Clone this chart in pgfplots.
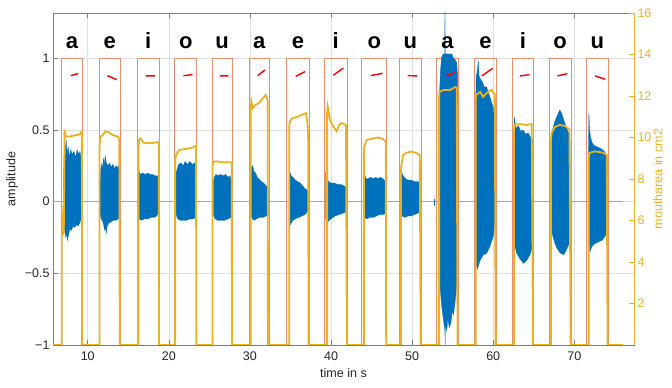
\documentclass[border=0pt]{standalone}
\usepackage{pgfplots}
\pgfplotsset{compat=1.18}
\usepackage{fontspec}
\setmainfont{Liberation Sans}
\definecolor{mblue}{RGB}{0,114,189}
\definecolor{morange}{RGB}{237,177,32}
\definecolor{msalmon}{RGB}{234,142,108}
\definecolor{axgray}{RGB}{128,128,128}
\definecolor{txtgray}{RGB}{38,38,38}
\tikzset{vow/.style={font=\fontsize{22}{22}\selectfont\bfseries, text=black, anchor=base}}
\begin{document}
\begin{tikzpicture}
\pgfplotsset{every axis/.append style={font=\fontsize{12.5}{15}\selectfont}}
\begin{axis}[
  scale only axis, width=581pt, height=332pt,
  xmin=5.72, xmax=77.36, ymin=-1, ymax=1.316,
  xtick={10,20,30,40,50,60,70}, xticklabels={10,20,30,40,50,60,70},
  ytick={-1,-0.5,0,0.5,1}, yticklabels={−1,−0.5,0,0.5,1},
  ytick pos=left, xtick pos=both, tick align=inside,
  major tick length=5pt,
  grid=major, grid style={draw=black!12, line width=0.5pt},
  axis line style={draw=axgray, line width=0.6pt},
  tick style={draw=axgray, line width=0.6pt},
  ticklabel style={text=txtgray},
  xticklabel style={yshift=-3pt},
  xlabel={time in s}, ylabel={amplitude},
  label style={text=txtgray},
  xlabel style={yshift=-1pt},
  unbounded coords=jump,
]
% zero line
\addplot[msalmon, line width=0.8pt] coordinates {(5.72,0)(76,0)};
% segment rectangles
\addplot[msalmon, line width=0.8pt] coordinates {
(6.79,-1)(6.79,1)(9.33,1)(9.33,-1)(9.33,nan)
(11.43,-1)(11.43,1)(13.98,1)(13.98,-1)(13.98,nan)
(16.08,-1)(16.08,1)(18.83,1)(18.83,-1)(18.83,nan)
(20.73,-1)(20.73,1)(23.44,1)(23.44,-1)(23.44,nan)
(25.33,-1)(25.33,1)(27.83,1)(27.83,-1)(27.83,nan)
(29.93,-1)(29.93,1)(32.39,1)(32.39,-1)(32.39,nan)
(34.54,-1)(34.54,1)(37.32,1)(37.32,-1)(37.32,nan)
(39.17,-1)(39.17,1)(42.01,1)(42.01,-1)(42.01,nan)
(43.79,-1)(43.79,1)(46.87,1)(46.87,-1)(46.87,nan)
(48.38,-1)(48.38,1)(51.18,1)(51.18,-1)(51.18,nan)
(53.03,-1)(53.03,1)(55.70,1)(55.70,-1)(55.70,nan)
(57.67,-1)(57.67,1)(60.43,1)(60.43,-1)(60.43,nan)
(62.32,-1)(62.32,1)(64.99,1)(64.99,-1)(64.99,nan)
(66.88,-1)(66.88,1)(69.63,1)(69.63,-1)(69.63,nan)
(71.48,-1)(71.48,1)(74.19,1)(74.19,-1)
};
% waveform envelopes
\addplot[fill=mblue, draw=mblue, line width=0.3pt] coordinates {(6.99,0.09)(7.1,0.3)(7.2,0.25)(7.25,0.38)(7.35,0.43)(7.45,0.34)(7.6,0.38)(7.75,0.31)(7.9,0.36)(8.1,0.33)(8.3,0.35)(8.5,0.31)(8.7,0.36)(8.9,0.33)(9.05,0.35)(9.2,0.3)(9.25,0.2)
(9.25,-0.05)(9.2,-0.12)(9.0,-0.15)(8.8,-0.17)(8.6,-0.16)(8.4,-0.18)(8.2,-0.17)(8.0,-0.2)(7.8,-0.19)(7.65,-0.23)(7.5,-0.27)(7.4,-0.22)(7.3,-0.25)(7.15,-0.2)(7.05,-0.12)(6.99,-0.05)} --cycle;
\addplot[fill=mblue, draw=mblue, line width=0.3pt] coordinates {(11.5,0.09)(11.6,0.22)(11.7,0.26)(11.8,0.23)(11.95,0.3)(12.05,0.25)(12.15,0.32)(12.3,0.27)(12.5,0.25)(12.7,0.27)(12.9,0.24)(13.1,0.26)(13.3,0.23)(13.5,0.25)(13.7,0.24)(13.85,0.25)(13.9,0.2)
(13.9,-0.08)(13.8,-0.12)(13.5,-0.13)(13.2,-0.13)(12.9,-0.14)(12.6,-0.15)(12.4,-0.17)(12.3,-0.22)(12.2,-0.18)(12.1,-0.2)(11.95,-0.16)(11.8,-0.13)(11.65,-0.12)(11.5,-0.07)} --cycle;
\addplot[fill=mblue, draw=mblue, line width=0.3pt] coordinates {(16.24,0.17)(16.35,0.21)(16.5,0.19)(16.8,0.2)(17.1,0.19)(17.4,0.2)(17.7,0.19)(18.0,0.19)(18.3,0.18)(18.6,0.18)(18.71,0.15)
(18.71,-0.08)(18.5,-0.1)(18.2,-0.11)(17.8,-0.11)(17.4,-0.12)(17.0,-0.12)(16.6,-0.13)(16.35,-0.12)(16.24,-0.1)} --cycle;
\addplot[fill=mblue, draw=mblue, line width=0.3pt] coordinates {(20.89,0.2)(21.0,0.22)(21.2,0.26)(21.5,0.27)(21.8,0.25)(22.0,0.28)(22.3,0.26)(22.6,0.28)(22.9,0.26)(23.2,0.27)(23.35,0.25)
(23.35,-0.11)(23.0,-0.12)(22.6,-0.12)(22.2,-0.13)(21.8,-0.13)(21.4,-0.13)(21.1,-0.12)(20.89,-0.09)} --cycle;
\addplot[fill=mblue, draw=mblue, line width=0.3pt] coordinates {(25.49,0.14)(25.6,0.17)(25.8,0.19)(26.1,0.18)(26.4,0.19)(26.7,0.18)(27.0,0.19)(27.3,0.17)(27.55,0.18)(27.67,0.15)
(27.67,-0.11)(27.3,-0.12)(26.9,-0.13)(26.5,-0.13)(26.0,-0.13)(25.7,-0.12)(25.49,-0.09)} --cycle;
\addplot[fill=mblue, draw=mblue, line width=0.3pt] coordinates {(30.1,0.2)(30.2,0.24)(30.35,0.25)(30.5,0.21)(30.7,0.2)(30.9,0.17)(31.1,0.16)(31.4,0.14)(31.7,0.13)(32.0,0.11)(32.27,0.1)
(32.27,-0.1)(32.0,-0.1)(31.6,-0.11)(31.2,-0.11)(30.8,-0.12)(30.5,-0.13)(30.3,-0.12)(30.1,-0.09)} --cycle;
\addplot[fill=mblue, draw=mblue, line width=0.3pt] coordinates {(34.86,0.16)(35.0,0.2)(35.1,0.18)(35.3,0.17)(35.6,0.15)(35.9,0.14)(36.2,0.13)(36.5,0.11)(36.8,0.09)(37.1,0.08)(37.2,0.06)
(37.2,-0.05)(37.1,-0.07)(36.8,-0.09)(36.4,-0.1)(36.0,-0.11)(35.6,-0.12)(35.3,-0.13)(35.0,-0.16)(34.86,-0.12)} --cycle;
\addplot[fill=mblue, draw=mblue, line width=0.3pt] coordinates {(39.34,0.21)(39.5,0.17)(39.7,0.14)(40.0,0.13)(40.4,0.13)(40.8,0.12)(41.2,0.12)(41.6,0.11)(41.9,0.1)
(41.9,-0.07)(41.5,-0.08)(41.0,-0.09)(40.5,-0.1)(40.0,-0.12)(39.6,-0.14)(39.34,-0.12)} --cycle;
\addplot[fill=mblue, draw=mblue, line width=0.3pt] coordinates {(43.99,0.19)(44.1,0.2)(44.3,0.16)(44.6,0.16)(44.9,0.17)(45.2,0.16)(45.5,0.17)(45.8,0.16)(46.1,0.17)(46.4,0.16)(46.74,0.14)
(46.74,-0.08)(46.4,-0.09)(46.0,-0.09)(45.6,-0.1)(45.2,-0.11)(44.8,-0.11)(44.4,-0.12)(44.1,-0.11)(43.99,-0.08)} --cycle;
\addplot[fill=mblue, draw=mblue, line width=0.3pt] coordinates {(48.59,0.17)(48.75,0.2)(48.9,0.18)(49.2,0.16)(49.5,0.15)(49.9,0.15)(50.3,0.14)(50.7,0.14)(51.06,0.12)
(51.06,-0.07)(50.7,-0.08)(50.3,-0.09)(49.9,-0.1)(49.5,-0.1)(49.1,-0.11)(48.8,-0.1)(48.59,-0.08)} --cycle;
\addplot[fill=mblue, draw=none] coordinates {(52.66,0.02)(52.72,0.02)(52.72,-0.03)(52.66,-0.03)} --cycle;
\addplot[fill=mblue, draw=mblue, line width=0.3pt] coordinates {(53.32,0.5)(53.4,0.78)(53.5,0.92)(53.65,1.01)(53.85,1.03)(54.03,1.03)(54.05,1.4)(54.08,1.03)(54.3,1.03)(54.6,1.03)(54.9,1.03)(55.1,1.0)(55.3,0.99)(55.5,0.97)(55.58,0.9)
(55.6,-0.3)(55.5,-0.59)(55.3,-0.7)(55.1,-0.79)(54.95,-0.76)(54.8,-0.84)(54.6,-0.88)(54.4,-0.82)(54.27,-0.9)(54.1,-0.86)(54.07,-1.0)(54.04,-0.9)(53.85,-0.82)(53.65,-0.73)(53.44,-0.6)(53.35,-0.3)} --cycle;
\addplot[fill=mblue, draw=mblue, line width=0.3pt] coordinates {(57.84,0.6)(57.88,0.87)(58.0,0.9)(58.17,0.98)(58.25,0.88)(58.38,0.86)(58.7,0.83)(58.9,0.8)(59.2,0.8)(59.4,0.76)(59.6,0.73)(59.8,0.69)(60.0,0.66)(60.2,0.55)(60.31,0.5)
(60.31,-0.1)(60.23,-0.13)(60.02,-0.24)(59.61,-0.31)(59.2,-0.36)(58.79,-0.37)(58.38,-0.41)(58.05,-0.47)(57.84,-0.43)} --cycle;
\addplot[fill=mblue, draw=mblue, line width=0.3pt] coordinates {(62.61,0.59)(62.8,0.51)(63.1,0.53)(63.4,0.49)(63.7,0.5)(64.0,0.47)(64.3,0.48)(64.6,0.45)(64.87,0.43)
(64.87,-0.31)(64.54,-0.37)(64.13,-0.41)(63.72,-0.43)(63.31,-0.4)(62.9,-0.36)(62.61,-0.3)} --cycle;
\addplot[fill=mblue, draw=mblue, line width=0.3pt] coordinates {(67.09,0.35)(67.3,0.5)(67.6,0.56)(67.9,0.6)(68.2,0.64)(68.4,0.62)(68.7,0.57)(69.0,0.52)(69.3,0.48)(69.47,0.42)
(69.47,-0.25)(69.3,-0.3)(69.0,-0.34)(68.7,-0.37)(68.3,-0.36)(67.9,-0.33)(67.6,-0.29)(67.3,-0.23)(67.09,-0.15)} --cycle;
\addplot[fill=mblue, draw=mblue, line width=0.3pt] coordinates {(71.73,0.3)(71.8,0.62)(71.9,0.5)(72.0,0.45)(72.2,0.41)(72.5,0.39)(72.9,0.38)(73.3,0.37)(73.7,0.35)(74.08,0.31)
(74.08,-0.2)(73.8,-0.24)(73.4,-0.27)(73.0,-0.28)(72.6,-0.29)(72.2,-0.31)(71.9,-0.35)(71.73,-0.2)} --cycle;
% pitch contours
\addplot[red, line width=1.4pt] coordinates {
(7.90,0.879)(8.84,0.893)(8.84,nan)
(12.42,0.879)(13.57,0.851)(13.57,nan)
(17.15,0.877)(18.3,0.877)(18.3,nan)
(21.79,0.879)(22.94,0.886)(22.94,nan)
(26.31,0.877)(27.34,0.877)(27.34,nan)
(30.96,0.879)(31.86,0.919)(31.86,nan)
(35.64,0.874)(36.79,0.907)(36.79,nan)
(40.29,0.882)(41.52,0.932)(41.52,nan)
(44.89,0.879)(46.37,0.895)(46.37,nan)
(49.45,0.879)(50.65,0.877)(50.65,nan)
(54.06,0.877)(55.29,0.9)(55.29,nan)
(58.58,0.877)(59.94,0.93)(59.94,nan)
(63.31,0.877)(64.46,0.886)(64.46,nan)
(67.91,0.877)(69.14,0.893)(69.14,nan)
(72.56,0.877)(73.79,0.854)
};
% vowel labels
\node[vow] at (axis cs:8.06,1.07) {a};
\node[vow] at (axis cs:12.705,1.07) {e};
\node[vow] at (axis cs:17.455,1.07) {i};
\node[vow] at (axis cs:22.085,1.07) {o};
\node[vow] at (axis cs:26.58,1.07) {u};
\node[vow] at (axis cs:31.16,1.07) {a};
\node[vow] at (axis cs:35.93,1.07) {e};
\node[vow] at (axis cs:40.59,1.07) {i};
\node[vow] at (axis cs:45.33,1.07) {o};
\node[vow] at (axis cs:49.78,1.07) {u};
\node[vow] at (axis cs:54.365,1.07) {a};
\node[vow] at (axis cs:59.05,1.07) {e};
\node[vow] at (axis cs:63.655,1.07) {i};
\node[vow] at (axis cs:68.255,1.07) {o};
\node[vow] at (axis cs:72.835,1.07) {u};
\end{axis}
\begin{axis}[
  scale only axis, width=581pt, height=332pt,
  xmin=5.72, xmax=77.36, ymin=0, ymax=16,
  axis x line=none, axis y line*=right,
  ytick={2,4,6,8,10,12,14,16}, yticklabels={2,4,6,8,10,12,14,16},
  tick align=inside, major tick length=5pt,
  y axis line style={draw=morange, line width=0.6pt},
  ytick style={draw=morange, line width=0.6pt},
  yticklabel style={text=morange},
  ylabel={moutharea in cm2},
  ylabel style={text=morange, yshift=5pt},
]
\addplot[morange, line width=1.8pt] coordinates {
(5.72,0)
(6.79,0)(6.79,6.7)(6.87,5.3)(7.05,5.4)(7.15,10.37)(7.3,10.05)(7.8,10.05)(8.4,10.1)(9.0,10.15)(9.15,10.25)(9.28,10.2)(9.3,0)
(11.45,0)(11.45,9.6)(11.6,10.04)(11.8,10.1)(12.2,10.3)(12.6,10.25)(13.1,10.12)(13.7,10.04)(13.9,9.95)(13.95,0)
(16.25,0)(16.25,9.4)(16.35,9.9)(16.5,9.96)(16.9,9.75)(17.5,9.72)(18.2,9.75)(18.75,9.78)(18.78,0)
(20.78,0)(20.78,8.9)(20.9,9.16)(21.3,9.4)(22.1,9.45)(22.9,9.51)(23.35,9.61)(23.4,0)
(25.38,0)(25.38,8.6)(25.5,8.84)(26.0,8.85)(26.5,8.81)(27.3,8.81)(27.75,8.8)(27.8,0)
(30.1,0)(30.1,11.3)(30.18,11.73)(30.35,11.41)(30.6,11.54)(31.2,11.7)(31.6,11.89)(31.94,12.05)(32.1,11.9)(32.2,11.73)(32.22,0)
(34.86,0)(34.86,10.6)(34.95,10.77)(35.2,10.93)(35.8,10.99)(36.4,11.09)(36.9,11.17)(37.1,10.7)(37.2,9.8)(37.22,0)
(39.52,0)(39.52,11.2)(39.6,11.5)(39.88,10.85)(40.29,10.53)(40.7,10.3)(40.99,10.6)(41.3,10.7)(41.6,10.65)(41.85,10.6)(41.95,0)
(44.05,0)(44.05,9.3)(44.1,9.56)(44.4,9.88)(45.2,9.96)(45.8,10.0)(46.45,9.92)(46.75,9.8)(46.8,0)
(48.62,0)(48.62,8.4)(48.65,8.6)(48.9,9.16)(49.3,9.27)(49.95,9.32)(50.55,9.25)(50.95,9.16)(51.05,0)
(53.33,0)(53.33,12.0)(53.4,12.21)(53.85,12.29)(54.7,12.29)(55.3,12.43)(55.5,12.4)(55.6,0)
(57.84,0)(57.84,11.8)(57.9,12.06)(58.4,12.2)(58.75,11.95)(59.2,12.15)(59.8,12.3)(60.2,12.06)(60.3,0)
(62.57,0)(62.57,10.4)(62.65,10.61)(63.3,10.65)(64.1,10.6)(64.75,10.65)(64.9,0)
(67.13,0)(67.13,9.9)(67.2,10.22)(67.6,10.5)(68.2,10.61)(68.85,10.55)(69.4,10.4)(69.55,0)
(71.77,0)(71.77,9.0)(71.85,9.25)(72.5,9.33)(73.4,9.28)(74.0,9.17)(74.1,0)
(76,0)
};
\end{axis}
\pgfresetboundingbox
\useasboundingbox (-53pt,-43pt) rectangle (619pt,345pt);
\end{tikzpicture}
\end{document}
